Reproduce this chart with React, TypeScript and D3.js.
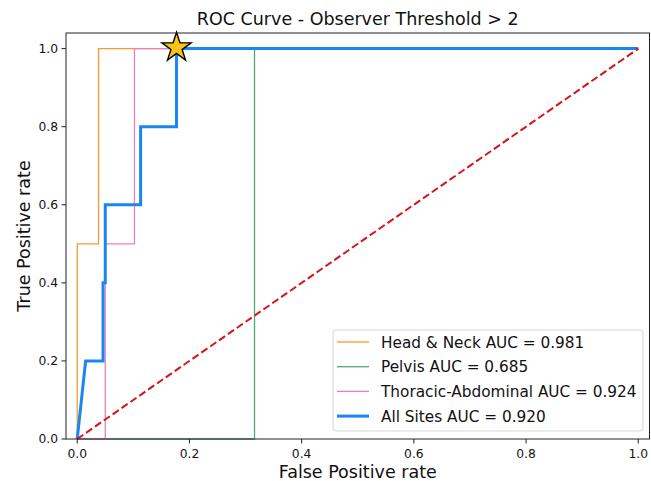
import React from "react";
import * as d3 from "d3";

// ROC curves
const fprHeadNeck = [0, 0, 0.038, 0.038, 1];
const tprHeadNeck = [0, 0.5, 0.5, 1, 1];
const fprPelvis = [0, 0.316, 0.316, 1];
const tprPelvis = [0, 0, 1, 1];
const fprThoracic = [0, 0.05, 0.05, 0.102, 0.102, 1];
const tprThoracic = [0, 0, 0.5, 0.5, 1, 1];
const fprAll = [0, 0.015, 0.046, 0.046, 0.05, 0.05, 0.113, 0.113, 0.177, 0.177, 1];
const tprAll = [0, 0.2, 0.2, 0.4, 0.4, 0.6, 0.6, 0.8, 0.8, 1, 1];

const seriesLabels = [
  "Head & Neck AUC = 0.981",
  "Pelvis AUC = 0.685",
  "Thoracic-Abdominal AUC = 0.924",
  "All Sites AUC = 0.920",
];
const seriesColors = ["#f59a2e", "#4fa978", "#e882bd", "#1a86f0"];
const seriesWidths = [1.3, 1.3, 1.3, 3];

const thresholdPoint = [0.177, 1];
const ticks = [0, 0.2, 0.4, 0.6, 0.8, 1.0];

const W = 651;
const H = 481;
const margin = { top: 33, right: 1.5, bottom: 42, left: 66 };
const FONT = "DejaVu Sans, sans-serif";

export default function App() {
  const x = d3.scaleLinear().domain([-0.02, 1.02]).range([margin.left, W - margin.right]);
  const y = d3.scaleLinear().domain([0, 1.04]).range([H - margin.bottom, margin.top]);

  const line = d3
    .line<[number, number]>()
    .x((d) => x(d[0]))
    .y((d) => y(d[1]));

  const series = [
    [fprHeadNeck, tprHeadNeck],
    [fprPelvis, tprPelvis],
    [fprThoracic, tprThoracic],
    [fprAll, tprAll],
  ].map(([f, t]) => f.map((v, i) => [v, t[i]] as [number, number]));

  const star = d3.symbol().type(d3.symbolStar).size(265)();

  const x0 = margin.left;
  const x1 = W - margin.right;
  const y0 = H - margin.bottom;
  const y1 = margin.top;

  // legend box
  const lg = { x: 333, y: 330, w: 310, h: 101, row: 24.7 };

  return (
    <svg
      width={W}
      height={H}
      style={{ position: "absolute", left: 0, top: 0, background: "#fff" }}
      fontFamily={FONT}
    >
      <rect x={0} y={0} width={W} height={H} fill="#fff" />

      {series.map((d, i) => (
        <path
          key={i}
          d={line(d) || ""}
          fill="none"
          stroke={seriesColors[i]}
          strokeWidth={seriesWidths[i]}
          strokeLinejoin="miter"
        />
      ))}

      <path
        d={line([[0, 0], [1, 1]]) || ""}
        fill="none"
        stroke="#d4141a"
        strokeWidth={2}
        strokeDasharray="7.4,3.4"
      />

      <path
        d={star}
        transform={`translate(${x(thresholdPoint[0])},${y(thresholdPoint[1]) - 1})`}
        fill="#fcc419"
        stroke="#000"
        strokeWidth={1.4}
      />

      {/* frame */}
      <rect x={x0} y={y1} width={x1 - x0} height={y0 - y1} fill="none" stroke="#222" strokeWidth={1} />

      {/* x ticks */}
      {ticks.map((t) => (
        <g key={"x" + t} transform={`translate(${x(t)},${y0})`}>
          <line y1={0} y2={4.5} stroke="#222" strokeWidth={1} />
          <text y={19} textAnchor="middle" fontSize={12.3} fill="#111">
            {t.toFixed(1)}
          </text>
        </g>
      ))}

      {/* y ticks */}
      {ticks.map((t) => (
        <g key={"y" + t} transform={`translate(${x0},${y(t)})`}>
          <line x1={0} x2={-4.5} stroke="#222" strokeWidth={1} />
          <text x={-8} dy="0.35em" textAnchor="end" fontSize={12.3} fill="#111">
            {t.toFixed(1)}
          </text>
        </g>
      ))}

      <text x={(x0 + x1) / 2} y={25} textAnchor="middle" fontSize={17.5} fill="#111">
        ROC Curve - Observer Threshold &gt; 2
      </text>
      <text x={(x0 + x1) / 2} y={478} textAnchor="middle" fontSize={17.5} fill="#111">
        False Positive rate
      </text>
      <text
        transform={`translate(${30},${(y0 + y1) / 2}) rotate(-90)`}
        textAnchor="middle"
        fontSize={17.5}
        fill="#111"
      >
        True Positive rate
      </text>

      {/* legend */}
      <rect
        x={lg.x}
        y={lg.y}
        width={lg.w}
        height={lg.h}
        rx={3}
        fill="#fff"
        fillOpacity={0.85}
        stroke="#d6d6d6"
        strokeWidth={1}
      />
      {seriesLabels.map((label, i) => {
        const cy = lg.y + 12 + i * lg.row;
        return (
          <g key={label}>
            <line x1={337} x2={369} y1={cy} y2={cy} stroke={seriesColors[i]} strokeWidth={seriesWidths[i]} />
            <text x={381} y={cy} dy="0.36em" fontSize={15.3} fill="#111">
              {label}
            </text>
          </g>
        );
      })}
    </svg>
  );
}
